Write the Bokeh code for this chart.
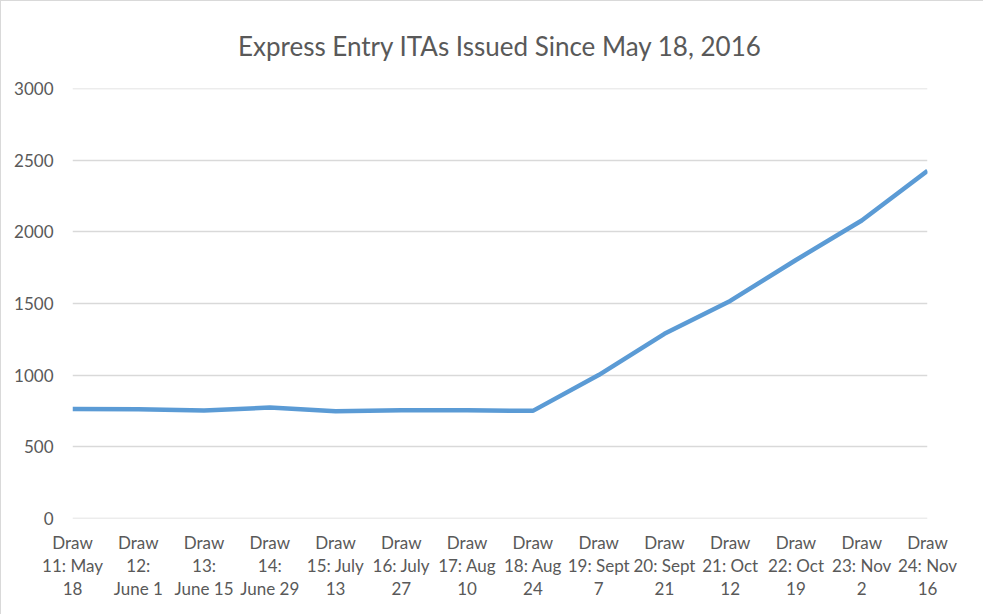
from bokeh.plotting import figure
from bokeh.models import FixedTicker, Range1d
from bokeh.embed import file_html
from bokeh.resources import INLINE

draws = ["Draw\n11: May\n18", "Draw\n12:\nJune 1", "Draw\n13:\nJune 15", "Draw\n14:\nJune 29",
         "Draw\n15: July\n13", "Draw\n16: July\n27", "Draw\n17: Aug\n10", "Draw\n18: Aug\n24",
         "Draw\n19: Sept\n7", "Draw\n20: Sept\n21", "Draw\n21: Oct\n12", "Draw\n22: Oct\n19",
         "Draw\n23: Nov\n2", "Draw\n24: Nov\n16"]
itas = [763, 762, 752, 773, 747, 755, 754, 750, 1000, 1288, 1518, 1804, 2080, 2427]
y_ticks = [0, 500, 1000, 1500, 2000, 2500, 3000]

xs = list(range(len(draws)))
FONT = "Lato"
GREY = "#595959"

p = figure(width=982, height=613, output_backend="svg", toolbar_location=None,
           x_range=Range1d(0, len(draws) - 1), y_range=Range1d(-2, 3002),
           min_border_left=71, min_border_right=56, min_border_top=87, min_border_bottom=96,
           frame_width=855, frame_height=430)
p.styles = {"border": "1px solid #d9d9d9", "box-sizing": "border-box"}
p.outline_line_color = None
p.background_fill_color = "white"
p.border_fill_color = "white"

p.title.text = "Express Entry ITAs Issued Since May 18, 2016"
p.title.align = "center"
p.title.text_font = FONT
p.title.text_font_size = "26px"
p.title.text_font_style = "normal"
p.title.text_color = GREY
p.title.standoff = 53

p.line(xs, itas, line_color="#5B9BD5", line_width=4.5)

p.xaxis.ticker = FixedTicker(ticks=xs)
p.xaxis.major_label_overrides = {i: d for i, d in enumerate(draws)}
p.xaxis.major_label_text_font = FONT
p.xaxis.major_label_text_font_size = "17px"
p.xaxis.major_label_text_color = GREY
p.xaxis.major_label_text_line_height = 1.1
p.xaxis.major_label_standoff = 7
p.xaxis.axis_line_color = None
p.xaxis.major_tick_line_color = None
p.xaxis.minor_tick_line_color = None

p.yaxis.ticker = FixedTicker(ticks=y_ticks)
p.yaxis.major_label_text_font = FONT
p.yaxis.major_label_text_font_size = "17px"
p.yaxis.major_label_text_color = GREY
p.yaxis.major_label_standoff = 13
p.yaxis.axis_line_color = None
p.yaxis.major_tick_line_color = None
p.yaxis.minor_tick_line_color = None

p.xgrid.grid_line_color = None
p.ygrid.grid_line_color = "#d9d9d9"
p.ygrid.grid_line_width = 1.3

open("out.html", "w").write(file_html(p, INLINE))
